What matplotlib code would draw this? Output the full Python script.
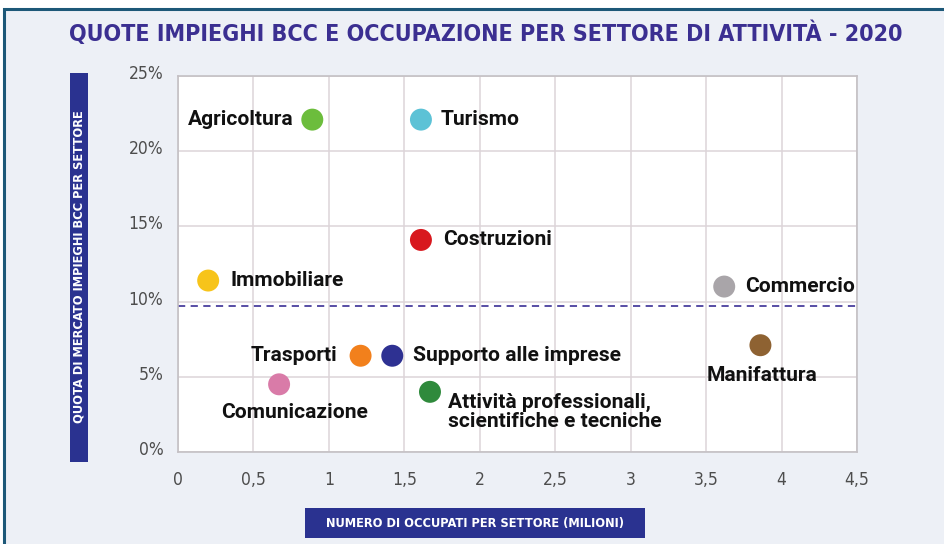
import matplotlib
matplotlib.use("Agg")
import matplotlib.pyplot as plt
import matplotlib.transforms as mtransforms
from matplotlib.patches import Rectangle

# Sector data: employed (millions) vs BCC loan market share (%)
sectors = ["Agricoltura", "Turismo", "Costruzioni", "Immobiliare", "Commercio",
           "Manifattura", "Trasporti", "Supporto alle imprese", "Comunicazione",
           "Attività professionali,\nscientifiche e tecniche"]
occupati = [0.89, 1.61, 1.61, 0.20, 3.62, 3.86, 1.21, 1.42, 0.67, 1.67]
quota = [22.1, 22.1, 14.1, 11.4, 11.0, 7.1, 6.4, 6.4, 4.5, 4.0]
colors = ["#6cbd3c", "#5cc2d6", "#d8181e", "#f7c41a", "#a9a5a9",
          "#8e6232", "#f2801c", "#2e3192", "#d97ba8", "#2f8a3c"]
media_quota = 9.7

x_ticks = [0, 0.5, 1, 1.5, 2, 2.5, 3, 3.5, 4, 4.5]
x_ticklabels = ["0", "0,5", "1", "1,5", "2", "2,5", "3", "3,5", "4", "4,5"]
y_ticks = [0, 5, 10, 15, 20, 25]
y_ticklabels = ["0%", "5%", "10%", "15%", "20%", "25%"]

# label placement: (dx, dy) in pixels, horizontal alignment
label_pos = [(-19, 0, "right"), (20, 0, "left"), (22, 0, "left"), (22, 0, "left"),
             (21, 0, "left"), (2, -30, "center"), (-23, 0, "right"), (21, 0, "left"),
             (15, -28, "center"), (18, -20, "left")]

NARROW = dict(family="DejaVu Sans", stretch="condensed")

W, H = 944, 544
fig = plt.figure(figsize=(W / 100, H / 100), dpi=100)
fig.patch.set_facecolor("white")

# outer panel
fig.patches.append(Rectangle((4 / W, -0.1), 1.1, (H - 9) / H + 0.1, transform=fig.transFigure,
                             facecolor="#edf0f6", edgecolor="#1d5878", linewidth=2.2,
                             zorder=-5))

fig.text(486 / W, 1 - 34 / H, "QUOTE IMPIEGHI BCC E OCCUPAZIONE PER SETTORE DI ATTIVITÀ - 2020",
         ha="center", va="center", fontsize=16.7, fontweight="bold", color="#3b2f91", **NARROW)

ax = fig.add_axes([178 / W, 92 / H, 679 / W, 376 / H])
ax.set_facecolor("white")
ax.set_xlim(0, 4.5)
ax.set_ylim(0, 25)
ax.set_xticks(x_ticks)
ax.set_xticklabels(x_ticklabels)
ax.set_yticks(y_ticks)
ax.set_yticklabels(y_ticklabels)
ax.tick_params(length=0, labelsize=12.5, labelcolor="#4d4d4d")
ax.tick_params(axis="x", pad=14)
ax.tick_params(axis="y", pad=10.5)
for lab in ax.get_xticklabels() + ax.get_yticklabels():
    lab.set_family("DejaVu Sans")
    lab.set_stretch("condensed")
# y labels sit slightly above their gridline
lift = mtransforms.ScaledTranslation(0, 4 / 100, fig.dpi_scale_trans)
for lab in ax.get_yticklabels():
    lab.set_transform(lab.get_transform() + lift)
ax.grid(True, color="#ddd4d9", linewidth=1.1)
ax.set_axisbelow(True)
for s in ax.spines.values():
    s.set_color("#c4c0c4")
    s.set_linewidth(1.2)

ax.axhline(media_quota, color="#4a3f9e", linestyle=(0, (4, 3)), linewidth=1.3, zorder=2)

ax.scatter(occupati, quota, s=250, c=colors, zorder=3, linewidths=0)

for name, x, y, (dx, dy, ha) in zip(sectors, occupati, quota, label_pos):
    ax.annotate(name, (x, y), xytext=(dx, dy), textcoords="offset pixels",
                ha=ha, va="center", fontsize=15.1, fontweight="bold", color="#111111",
                family="Roboto", linespacing=0.95, multialignment="left", zorder=4)

# axis title boxes
fig.patches.append(Rectangle((70 / W, 1 - 462 / H), 18 / W, 389 / H, transform=fig.transFigure,
                             facecolor="#2a3290", edgecolor="none", zorder=1))
fig.text(79 / W, 1 - 267 / H, "QUOTA DI MERCATO IMPIEGHI BCC PER SETTORE", rotation=90,
         ha="center", va="center", fontsize=9.2, fontweight="bold", color="white", **NARROW)
fig.patches.append(Rectangle((305 / W, 1 - 538 / H), 340 / W, 30 / H, transform=fig.transFigure,
                             facecolor="#2a3290", edgecolor="none", zorder=1))
fig.text(475 / W, 1 - 523 / H, "NUMERO DI OCCUPATI PER SETTORE (MILIONI)",
         ha="center", va="center", fontsize=9.2, fontweight="bold", color="white", **NARROW)

fig.savefig("out.png", dpi=100, facecolor=fig.get_facecolor())
